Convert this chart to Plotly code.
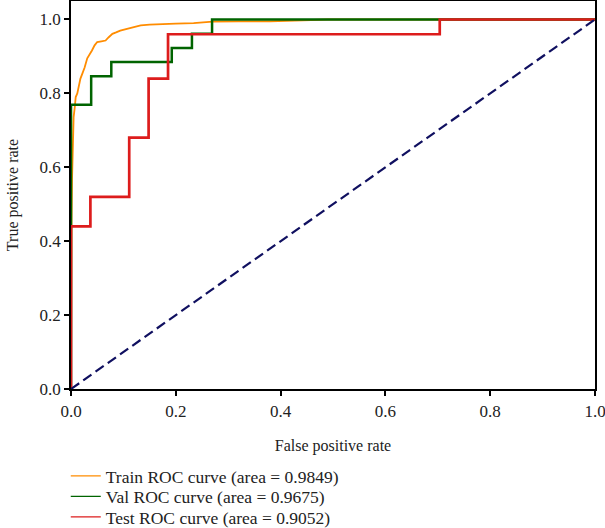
import plotly.graph_objects as go

# ROC points (fpr, tpr corners)
train_fpr = [0.0, 0.0, 0.001, 0.002, 0.003, 0.004, 0.005, 0.007, 0.009, 0.012, 0.015, 0.018,
             0.022, 0.026, 0.031, 0.036, 0.040, 0.045, 0.050, 0.058, 0.066, 0.072, 0.079,
             0.086, 0.094, 0.105, 0.118, 0.133, 0.150, 0.171, 0.200, 0.234, 0.270, 0.320,
             0.380, 0.490, 1.0]
train_tpr = [0.0, 0.30, 0.45, 0.57, 0.65, 0.70, 0.736, 0.76, 0.79, 0.80, 0.82, 0.84,
             0.855, 0.87, 0.895, 0.905, 0.916, 0.93, 0.939, 0.941, 0.943, 0.952, 0.961,
             0.965, 0.970, 0.974, 0.979, 0.984, 0.986, 0.988, 0.989, 0.990, 0.994, 0.995,
             0.995, 1.0, 1.0]

val_fpr = [0.0, 0.0, 0.0385, 0.0385, 0.0769, 0.0769, 0.1923, 0.1923, 0.2308, 0.2308,
           0.2692, 0.2692, 1.0]
val_tpr = [0.0, 0.7692, 0.7692, 0.8462, 0.8462, 0.8846, 0.8846, 0.9231, 0.9231, 0.9615,
           0.9615, 1.0, 1.0]

test_fpr = [0.0, 0.0, 0.0370, 0.0370, 0.1111, 0.1111, 0.1481, 0.1481, 0.1852, 0.1852,
            0.7037, 0.7037, 1.0]
test_tpr = [0.0, 0.44, 0.44, 0.52, 0.52, 0.68, 0.68, 0.84, 0.84, 0.96, 0.96, 1.0, 1.0]

chance = [0.0, 1.0]

names = ["Train ROC curve (area = 0.9849)",
         "Val ROC curve (area = 0.9675)",
         "Test ROC curve (area = 0.9052)"]
colors = ["darkorange", "darkgreen", "#dd1c1c"]
widths = [1.8, 2.5, 2.7]

fig = go.Figure()

curves = [(train_fpr, train_tpr), (val_fpr, val_tpr), (test_fpr, test_tpr)]
for (fx, ty), c, w in zip(curves, colors, widths):
    fig.add_trace(go.Scatter(x=fx, y=ty, mode="lines", line=dict(color=c, width=w),
                             showlegend=False, hoverinfo="skip"))

fig.add_trace(go.Scatter(x=chance, y=chance, mode="lines",
                         line=dict(color="#101060", width=2.2, dash="10px,5px"),
                         showlegend=False, hoverinfo="skip"))

# one legend per row so the row spacing can match the reference
legend_ids = ["legend", "legend2", "legend3"]
row_y = [0.0985, 0.0597, 0.0210]   # container coords
for nm, c, lg in zip(names, colors, legend_ids):
    fig.add_trace(go.Scatter(x=[None], y=[None], mode="lines", name=nm, legend=lg,
                             line=dict(color=c, width=1.2)))

axis_common = dict(
    showline=True, linecolor="black", linewidth=1.5, mirror=True,
    ticks="outside", ticklen=5, tickwidth=1.5, tickcolor="black",
    showgrid=False, zeroline=False, automargin=False,
    ticklabeloverflow="allow",
    tickfont=dict(size=17, color="#222"),
    title_font=dict(size=16, color="#222"),
)

fig.update_xaxes(range=[0, 1], tickvals=[0, 0.2, 0.4, 0.6, 0.8, 1.0], tickformat=".1f",
                 ticklabelstandoff=1,
                 title_text="False positive rate", title_standoff=20, **axis_common)
fig.update_yaxes(range=[0, 1.05], tickvals=[0, 0.2, 0.4, 0.6, 0.8, 1.0], tickformat=".1f",
                 title_text="True positive rate", title_standoff=17, **axis_common)

leg = dict(x=-0.01, xanchor="left", yanchor="middle", xref="paper", yref="container",
           orientation="v", bgcolor="rgba(0,0,0,0)", borderwidth=0,
           font=dict(size=17.5), itemwidth=30)
fig.update_layout(
    width=605, height=528,
    margin=dict(l=71, r=10, t=1, b=139),
    plot_bgcolor="white", paper_bgcolor="white",
    font=dict(family="Liberation Serif", size=14, color="#222"),
    legend=dict(leg, y=row_y[0]),
    legend2=dict(leg, y=row_y[1]),
    legend3=dict(leg, y=row_y[2]),
)

# drop the browser's default body margin so the figure sits at the page corner
fig.write_html("out.html", config={"displayModeBar": False},
               post_script="document.body.style.margin='0';")
